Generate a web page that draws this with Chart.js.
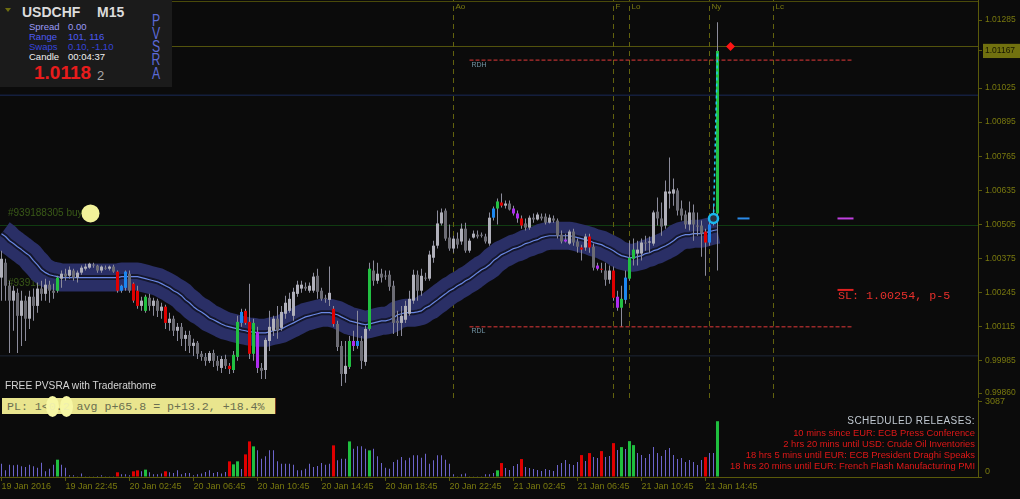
<!DOCTYPE html>
<html>
<head>
<meta charset="utf-8">
<script src="https://cdn.jsdelivr.net/npm/chart.js@4.4.1/dist/chart.umd.min.js"></script>
<style>
  html, body { margin: 0; padding: 0; background: #0b0b0b; }
  #wrap { position: relative; width: 1020px; height: 499px; overflow: hidden; background: #0b0b0b;
          font-family: 'Liberation Sans', Arial, sans-serif; }
  canvas { position: absolute; left: 0; }
  #cPrice { top: 0; }
  #cVol { top: 398px; }
  .t { position: absolute; white-space: nowrap; line-height: 1; }
  #topline { position: absolute; left: 0; top: 1px; width: 978px; border-top: 1px solid #4a4a0a; }
  #info { position: absolute; left: 0; top: 0; width: 172px; height: 87px; background: #1b1b1b; }
  #tri { position: absolute; left: 5px; top: 8px; width: 0; height: 0;
         border-left: 3.5px solid transparent; border-right: 3.5px solid transparent; border-top: 4px solid #6e6e10; }
  #pvsra { position: absolute; left: 146px; top: 13.7px; width: 20px; text-align: center; font-size: 17px;
           line-height: 13.2px; color: #5c6ad6; transform: scaleX(0.72); }
  #pl { position: absolute; left: 2px; top: 398px; width: 268px; height: 16px; padding-left: 5px;
        background: #e9e58e; border-right: 1px solid #7a3a20; font-family: 'Liberation Mono', monospace;
        font-size: 11.6px; line-height: 17px; color: #6b6f50; white-space: pre; }
  .blob { background: #f7f7a4; color: #eeeeb0; border-radius: 50%; padding: 4px 3px; margin: 0 -3px; }
  #news { position: absolute; right: 45px; top: 415px; text-align: right; }
  #news div { white-space: nowrap; }
</style>
</head>
<body>
<div id="wrap">
  <canvas id="cPrice" width="1020" height="398"></canvas>
  <canvas id="cVol" width="1020" height="101"></canvas>
  <div id="topline"></div>

  <div id="info">
    <div id="tri"></div>
    <div class="t" style="left:22px;top:5px;font-size:14px;font-weight:bold;color:#dcdcdc">USDCHF</div>
    <div class="t" style="left:97px;top:5px;font-size:14px;font-weight:bold;color:#dcdcdc">M15</div>
    <div class="t" style="left:29px;top:22px;font-size:9.5px;color:#9a9af8">Spread</div>
    <div class="t" style="left:68px;top:22px;font-size:9.5px;color:#9a9af8">0.00</div>
    <div class="t" style="left:29px;top:31.5px;font-size:9.5px;color:#4c5af4">Range</div>
    <div class="t" style="left:68px;top:31.5px;font-size:9.5px;color:#4c5af4">101, 116</div>
    <div class="t" style="left:29px;top:41.5px;font-size:9.5px;color:#3644dc">Swaps</div>
    <div class="t" style="left:68px;top:41.5px;font-size:9.5px;color:#3644dc">0.10, -1.10</div>
    <div class="t" style="left:29px;top:51.5px;font-size:9.5px;color:#f0f0f0">Candle</div>
    <div class="t" style="left:68px;top:51.5px;font-size:9.5px;color:#f0f0f0">00:04:37</div>
    <div class="t" style="left:34px;top:63px;font-size:19px;font-weight:bold;color:#e81c1c">1.0118</div>
    <div class="t" style="left:97px;top:69px;font-size:13px;color:#a8a8a8">2</div>
    <div id="pvsra">P<br>V<br>S<br>R<br>A</div>
  </div>

  <div class="t" style="left:5px;top:381px;font-size:10.2px;color:#d4d4d4">FREE PVSRA with Traderathome</div>
  <div id="pl">PL: 1&lt;<span class="blob">0</span>.<span class="blob">2</span> avg p+65.8 = p+13.2, +18.4%</div>

  <div class="t" style="left:838px;top:291px;font-family:'Liberation Mono',monospace;font-size:11.7px;color:#e8302c">SL: 1.00254, p-5</div>

  <div id="news">
    <div style="font-size:10px;letter-spacing:0.4px;color:#c0c8d0;line-height:12px">SCHEDULED RELEASES:</div>
    <div style="font-size:9.4px;color:#e01818;line-height:11px">10 mins since EUR: ECB Press Conference</div>
    <div style="font-size:9.4px;color:#e01818;line-height:11px">2 hrs 20 mins until USD: Crude Oil Inventories</div>
    <div style="font-size:9.4px;color:#e01818;line-height:11px">18 hrs 5 mins until EUR: ECB President Draghi Speaks</div>
    <div style="font-size:9.4px;color:#e01818;line-height:11px">18 hrs 20 mins until EUR: French Flash Manufacturing PMI</div>
  </div>
</div>

<script>
// USDCHF M15, 19 Jan 18:45 .. 21 Jan 15:30 (one entry per candle)
const TIME_LABELS = ['19 Jan 2016', '19 Jan 22:45', '20 Jan 02:45', '20 Jan 06:45', '20 Jan 10:45', '20 Jan 14:45',
  '20 Jan 18:45', '20 Jan 22:45', '21 Jan 02:45', '21 Jan 06:45', '21 Jan 10:45', '21 Jan 14:45'];
const TIME_LABEL_STEP = 16;   // candles between time labels

const PRICE_TICKS = [1.01285, 1.01167, 1.01025, 1.00895, 1.00765, 1.00635, 1.00505, 1.00375, 1.00245, 1.00115, 0.99985, 0.99860];
const LAST_PRICE = 1.01167;
const VOL_TICKS = [3087, 0];

const OPEN = [
  1.00301, 1.00358, 1.00270, 1.00213, 1.00243, 1.00155, 1.00213, 1.00144, 1.00228, 1.00193,
  1.00259, 1.00239, 1.00274, 1.00251, 1.00251, 1.00297, 1.00316, 1.00308, 1.00328, 1.00301,
  1.00320, 1.00335, 1.00339, 1.00350, 1.00347, 1.00328, 1.00339, 1.00335, 1.00343, 1.00324,
  1.00251, 1.00262, 1.00316, 1.00278, 1.00251, 1.00193, 1.00174, 1.00224, 1.00193, 1.00213,
  1.00174, 1.00190, 1.00128, 1.00144, 1.00098, 1.00113, 1.00067, 1.00082, 1.00040, 1.00052,
  1.00010, 0.99998, 0.99983, 1.00013, 0.99983, 0.99956, 0.99990, 0.99964, 0.99948, 0.99998,
  1.00128, 1.00174, 1.00132, 1.00010, 1.00094, 0.99956, 0.99948, 1.00059, 1.00098, 1.00144,
  1.00109, 1.00163, 1.00174, 1.00155, 1.00239, 1.00259, 1.00266, 1.00251, 1.00251, 1.00308,
  1.00251, 1.00224, 1.00216, 1.00182, 1.00124, 1.00040, 0.99933, 0.99960, 1.00059, 1.00040,
  1.00059, 0.99979, 1.00105, 1.00328, 1.00289, 1.00316, 1.00308, 1.00312, 1.00270, 1.00136,
  1.00128, 1.00140, 1.00163, 1.00213, 1.00312, 1.00251, 1.00301, 1.00297, 1.00377, 1.00423,
  1.00508, 1.00557, 1.00454, 1.00412, 1.00450, 1.00439, 1.00488, 1.00404, 1.00454, 1.00465,
  1.00465, 1.00458, 1.00431, 1.00530, 1.00565, 1.00588, 1.00576, 1.00584, 1.00565, 1.00546,
  1.00527, 1.00508, 1.00492, 1.00530, 1.00523, 1.00534, 1.00534, 1.00511, 1.00527, 1.00519,
  1.00465, 1.00446, 1.00431, 1.00477, 1.00439, 1.00416, 1.00416, 1.00458, 1.00419, 1.00347,
  1.00335, 1.00328, 1.00293, 1.00328, 1.00228, 1.00186, 1.00216, 1.00297, 1.00373, 1.00393,
  1.00393, 1.00435, 1.00435, 1.00431, 1.00553, 1.00527, 1.00500, 1.00622, 1.00622, 1.00634,
  1.00565, 1.00542, 1.00504, 1.00550, 1.00500, 1.00500, 1.00477, 1.00435, 1.00519, 1.00546
];
const HIGH = [
  1.00404, 1.00373, 1.00289, 1.00270, 1.00259, 1.00251, 1.00232, 1.00251, 1.00259, 1.00282,
  1.00289, 1.00297, 1.00289, 1.00278, 1.00308, 1.00328, 1.00335, 1.00343, 1.00335, 1.00328,
  1.00347, 1.00354, 1.00358, 1.00358, 1.00350, 1.00347, 1.00347, 1.00347, 1.00350, 1.00328,
  1.00274, 1.00328, 1.00328, 1.00282, 1.00270, 1.00228, 1.00236, 1.00239, 1.00224, 1.00220,
  1.00205, 1.00197, 1.00167, 1.00155, 1.00128, 1.00128, 1.00098, 1.00098, 1.00067, 1.00059,
  1.00021, 1.00013, 1.00021, 1.00025, 1.00002, 1.00002, 1.00006, 0.99975, 1.00021, 1.00155,
  1.00182, 1.00182, 1.00278, 1.00144, 1.00113, 0.99975, 1.00071, 1.00174, 1.00155, 1.00193,
  1.00193, 1.00232, 1.00243, 1.00262, 1.00289, 1.00289, 1.00282, 1.00282, 1.00320, 1.00335,
  1.00262, 1.00236, 1.00343, 1.00193, 1.00136, 1.00059, 1.00059, 1.00078, 1.00098, 1.00174,
  1.00078, 1.00117, 1.00358, 1.00366, 1.00358, 1.00335, 1.00328, 1.00328, 1.00289, 1.00174,
  1.00193, 1.00213, 1.00251, 1.00331, 1.00328, 1.00335, 1.00320, 1.00404, 1.00442, 1.00557,
  1.00565, 1.00565, 1.00504, 1.00461, 1.00473, 1.00508, 1.00511, 1.00450, 1.00481, 1.00481,
  1.00473, 1.00469, 1.00550, 1.00573, 1.00603, 1.00622, 1.00596, 1.00596, 1.00576, 1.00557,
  1.00538, 1.00527, 1.00538, 1.00546, 1.00550, 1.00546, 1.00546, 1.00542, 1.00538, 1.00527,
  1.00481, 1.00469, 1.00484, 1.00488, 1.00450, 1.00427, 1.00469, 1.00469, 1.00431, 1.00358,
  1.00358, 1.00358, 1.00347, 1.00343, 1.00251, 1.00270, 1.00328, 1.00442, 1.00450, 1.00442,
  1.00450, 1.00461, 1.00458, 1.00557, 1.00607, 1.00588, 1.00672, 1.00760, 1.00680, 1.00642,
  1.00596, 1.00557, 1.00592, 1.00580, 1.00550, 1.00519, 1.00488, 1.00519, 1.00576, 1.01277
];
const LOW = [
  1.00213, 1.00213, 1.00013, 1.00098, 1.00013, 1.00040, 1.00059, 1.00105, 1.00136, 1.00167,
  1.00213, 1.00213, 1.00205, 1.00220, 1.00243, 1.00262, 1.00289, 1.00297, 1.00289, 1.00282,
  1.00312, 1.00328, 1.00335, 1.00339, 1.00320, 1.00320, 1.00331, 1.00328, 1.00320, 1.00243,
  1.00243, 1.00251, 1.00243, 1.00205, 1.00182, 1.00174, 1.00167, 1.00174, 1.00155, 1.00151,
  1.00144, 1.00105, 1.00098, 1.00078, 1.00059, 1.00040, 1.00021, 1.00013, 1.00002, 0.99990,
  0.99983, 0.99964, 0.99975, 0.99960, 0.99945, 0.99937, 0.99952, 0.99933, 0.99937, 0.99983,
  1.00113, 1.00121, 0.99990, 0.99983, 0.99937, 0.99914, 0.99914, 1.00021, 1.00078, 1.00067,
  1.00098, 1.00144, 1.00167, 1.00136, 1.00228, 1.00243, 1.00251, 1.00243, 1.00243, 1.00220,
  1.00213, 1.00205, 1.00193, 1.00113, 1.00021, 0.99887, 0.99899, 0.99952, 1.00021, 1.00029,
  0.99952, 0.99964, 1.00098, 1.00270, 1.00278, 1.00282, 1.00293, 1.00251, 1.00086, 1.00078,
  1.00078, 1.00128, 1.00155, 1.00201, 1.00213, 1.00232, 1.00289, 1.00289, 1.00358, 1.00412,
  1.00500, 1.00442, 1.00404, 1.00396, 1.00412, 1.00427, 1.00396, 1.00396, 1.00450, 1.00450,
  1.00454, 1.00431, 1.00423, 1.00519, 1.00504, 1.00569, 1.00565, 1.00557, 1.00538, 1.00511,
  1.00488, 1.00481, 1.00484, 1.00511, 1.00519, 1.00519, 1.00504, 1.00508, 1.00511, 1.00450,
  1.00431, 1.00435, 1.00427, 1.00423, 1.00396, 1.00366, 1.00404, 1.00396, 1.00328, 1.00328,
  1.00320, 1.00270, 1.00278, 1.00213, 1.00174, 1.00113, 1.00201, 1.00289, 1.00347, 1.00347,
  1.00366, 1.00404, 1.00396, 1.00423, 1.00500, 1.00461, 1.00488, 1.00565, 1.00576, 1.00538,
  1.00519, 1.00488, 1.00481, 1.00442, 1.00461, 1.00381, 1.00308, 1.00423, 1.00500, 1.00328
];
const CLOSE = [
  1.00373, 1.00270, 1.00213, 1.00251, 1.00155, 1.00213, 1.00144, 1.00228, 1.00193, 1.00259,
  1.00239, 1.00274, 1.00251, 1.00243, 1.00301, 1.00316, 1.00305, 1.00331, 1.00301, 1.00320,
  1.00339, 1.00343, 1.00354, 1.00347, 1.00328, 1.00343, 1.00335, 1.00343, 1.00324, 1.00251,
  1.00270, 1.00324, 1.00251, 1.00213, 1.00193, 1.00213, 1.00228, 1.00193, 1.00213, 1.00174,
  1.00190, 1.00128, 1.00144, 1.00098, 1.00113, 1.00067, 1.00082, 1.00040, 1.00052, 1.00010,
  0.99998, 0.99983, 1.00013, 0.99983, 0.99964, 0.99990, 0.99964, 0.99952, 1.00006, 1.00132,
  1.00170, 1.00128, 1.00010, 1.00128, 0.99956, 0.99945, 1.00063, 1.00113, 1.00144, 1.00098,
  1.00170, 1.00205, 1.00220, 1.00247, 1.00274, 1.00274, 1.00259, 1.00270, 1.00305, 1.00247,
  1.00220, 1.00220, 1.00243, 1.00124, 1.00036, 0.99933, 0.99964, 1.00059, 1.00040, 1.00059,
  0.99983, 1.00105, 1.00335, 1.00289, 1.00316, 1.00301, 1.00305, 1.00266, 1.00128, 1.00128,
  1.00155, 1.00193, 1.00220, 1.00312, 1.00251, 1.00308, 1.00297, 1.00389, 1.00423, 1.00508,
  1.00550, 1.00450, 1.00412, 1.00450, 1.00427, 1.00488, 1.00404, 1.00442, 1.00469, 1.00458,
  1.00461, 1.00439, 1.00530, 1.00565, 1.00592, 1.00576, 1.00584, 1.00561, 1.00546, 1.00527,
  1.00500, 1.00492, 1.00530, 1.00523, 1.00542, 1.00527, 1.00511, 1.00530, 1.00519, 1.00461,
  1.00439, 1.00439, 1.00477, 1.00435, 1.00419, 1.00408, 1.00458, 1.00416, 1.00339, 1.00335,
  1.00331, 1.00293, 1.00328, 1.00224, 1.00186, 1.00220, 1.00301, 1.00377, 1.00408, 1.00408,
  1.00435, 1.00431, 1.00439, 1.00550, 1.00527, 1.00496, 1.00630, 1.00630, 1.00638, 1.00557,
  1.00538, 1.00504, 1.00550, 1.00504, 1.00496, 1.00469, 1.00435, 1.00504, 1.00542, 1.01167
];
// PVSRA class per candle: n normal, g/r climax up/down, b/m rising volume up/down
const PV_CLASS = (
  'nnnnnnnnnn' + 'nnnngnnnnn' + 'nnnnnnnnnr' + 'bbnrrngnnn' + 'nrnnnnnnnn' +
  'nnnnnnnrgg' + 'brrgmnnnnn' + 'nnnnnnnnnn' + 'nnnrnnngmb' + 'nngnnnnnnn' +
  'nnnnnnnnnn' + 'nnnnnnnnnn' + 'nnnbgrnnmm' + 'rnnnnnnnnn' + 'nmnnnrnrnm' +
  'rnnrmgbggn' + 'nnnnnnnnnn' + 'nnnnnnrbng'
).split('');
const VOLUME = [
  550, 275, 508, 480, 508, 439, 410, 508, 439, 385,
  590, 234, 344, 508, 713, 508, 385, 70, 70, 30,
  140, 30, 30, 30, 40, 70, 30, 30, 30, 193,
  111, 111, 70, 234, 275, 234, 303, 193, 111, 111,
  140, 234, 193, 164, 275, 111, 164, 164, 70, 111,
  140, 207, 275, 164, 207, 140, 207, 644, 521, 644,
  330, 931, 1465, 1261, 1096, 754, 850, 1096, 1096, 644,
  549, 549, 549, 508, 275, 275, 344, 549, 410, 453,
  576, 508, 549, 1302, 686, 754, 754, 1465, 1165, 1261,
  1261, 1165, 1096, 1165, 850, 576, 385, 344, 617, 713,
  822, 686, 795, 891, 891, 795, 960, 549, 686, 891,
  891, 713, 549, 111, 30, 111, 140, 30, 30, 10,
  30, 111, 111, 164, 275, 574, 369, 287, 451, 533,
  738, 410, 369, 328, 287, 246, 328, 287, 246, 492,
  574, 697, 533, 492, 615, 902, 656, 984, 820, 779,
  1066, 820, 861, 1394, 1107, 1230, 1148, 1476, 1312, 984,
  902, 779, 943, 1230, 984, 861, 1107, 1189, 902, 738,
  779, 615, 697, 615, 492, 697, 820, 984, 984, 2296
];
// moving average of the PVSRA band
const MA = [
  1.00469, 1.00458, 1.00442, 1.00431, 1.00419, 1.00408, 1.00396, 1.00385, 1.00366, 1.00350,
  1.00331, 1.00320, 1.00312, 1.00308, 1.00305, 1.00301, 1.00301, 1.00301, 1.00301, 1.00301,
  1.00301, 1.00301, 1.00301, 1.00301, 1.00301, 1.00301, 1.00301, 1.00301, 1.00301, 1.00301,
  1.00305, 1.00305, 1.00305, 1.00305, 1.00305, 1.00301, 1.00297, 1.00293, 1.00289, 1.00285,
  1.00278, 1.00270, 1.00262, 1.00251, 1.00243, 1.00232, 1.00216, 1.00205, 1.00190, 1.00178,
  1.00170, 1.00159, 1.00147, 1.00140, 1.00132, 1.00124, 1.00117, 1.00113, 1.00109, 1.00105,
  1.00101, 1.00098, 1.00094, 1.00094, 1.00090, 1.00090, 1.00090, 1.00094, 1.00098, 1.00101,
  1.00105, 1.00113, 1.00121, 1.00128, 1.00136, 1.00144, 1.00151, 1.00155, 1.00159, 1.00163,
  1.00167, 1.00167, 1.00167, 1.00163, 1.00159, 1.00151, 1.00144, 1.00136, 1.00132, 1.00128,
  1.00124, 1.00121, 1.00124, 1.00128, 1.00132, 1.00136, 1.00136, 1.00140, 1.00147, 1.00159,
  1.00163, 1.00167, 1.00167, 1.00167, 1.00170, 1.00174, 1.00186, 1.00193, 1.00205, 1.00216,
  1.00228, 1.00239, 1.00251, 1.00259, 1.00270, 1.00278, 1.00289, 1.00297, 1.00308, 1.00320,
  1.00331, 1.00339, 1.00350, 1.00366, 1.00377, 1.00389, 1.00396, 1.00404, 1.00412, 1.00416,
  1.00423, 1.00431, 1.00435, 1.00442, 1.00446, 1.00454, 1.00458, 1.00461, 1.00461, 1.00461,
  1.00461, 1.00461, 1.00461, 1.00458, 1.00454, 1.00450, 1.00446, 1.00442, 1.00435, 1.00431,
  1.00427, 1.00419, 1.00412, 1.00404, 1.00393, 1.00385, 1.00381, 1.00377, 1.00377, 1.00381,
  1.00385, 1.00393, 1.00396, 1.00404, 1.00408, 1.00416, 1.00423, 1.00431, 1.00442, 1.00454,
  1.00461, 1.00465, 1.00465, 1.00469, 1.00469, 1.00469, 1.00473, 1.00477, 1.00481, 1.00484
];

// horizontal levels across the chart, range lines, session markers, order marks
const LEVEL_PRICES = [1.01184, 1.00998, 1.00500, 1.00002];
const RANGE_LEVELS = [1.01132, 1.00113];
const RANGE_NAMES = ['RDH', 'RDL'];
const RANGE_SPAN = [117, 212.5];
const SESSION_BARS = [113, 153, 157, 177, 193];
const SESSION_NAMES = ['Ao', 'F', 'Lo', 'Ny', 'Lc'];
const MARK_PRICES = [1.00527, 1.00527, 1.00254];
const MARK_SPANS = [[184, 187], [209, 213], [209, 213]];
const ORDER_LABEL = '#939188305 buy';
const ORDER_LABEL_PRICES = [1.00546, 1.00278];
const ORDER_BAR = 22.25, ORDER_PRICE = 1.00546;
const ENTRY_BAR = 178, ENTRY_PRICE = 1.00527;
const TP_BAR = 182.25, TP_PRICE = 1.01184;

// axis windows (plot is 978 px wide, 4 px per candle)
const X_MIN = -0.375, X_MAX = 244.125;
const PRICE_MIN = 0.998411, PRICE_MAX = 1.013616;
const VOL_MAX = 3169;

const FONT = "'Liberation Sans', Arial, sans-serif";
const AXIS_TEXT = '#79790f';
const AXIS_LINE = '#5a5a0a';
const PV_COLORS = { g: '#22c042', r: '#e00000', b: '#1c86f0', m: '#ae2cf0' };
const LEVEL_COLORS = ['#55550e', '#1a2a58', '#113c12', '#1d2536'];
const MARK_COLORS = ['#2a8ae8', '#c040e0', '#e02020'];

const bars = CLOSE.map((_, i) => i);
const isClimax = i => PV_CLASS[i] === 'g' || PV_CLASS[i] === 'r';

function bodyColor(i) {
  const k = PV_CLASS[i];
  if (k !== 'n') return PV_COLORS[k];
  return CLOSE[i] >= OPEN[i] ? '#b0b0ba' : '#6c6c74';
}

function lineSet(data, color, width, order) {
  return { type: 'line', data, borderColor: color, borderWidth: width, pointRadius: 0, fill: false,
           order, borderCapStyle: 'butt', borderJoinStyle: 'round' };
}

function pointSet(x, y, style, order) {
  return { type: 'scatter', data: [{ x, y }], order, ...style };
}

const maPts = bars.map(i => ({ x: i, y: MA[i] }));

const priceText = {
  id: 'priceText',
  beforeDatasetsDraw(chart) {
    const { ctx, scales: { y } } = chart;
    ctx.save();
    ctx.font = '10px ' + FONT;
    ctx.fillStyle = '#3a5a18';
    ctx.textBaseline = 'middle';
    ORDER_LABEL_PRICES.forEach(p => ctx.fillText(ORDER_LABEL, 8, y.getPixelForValue(p)));
    ctx.restore();
  },
  afterDatasetsDraw(chart) {
    const { ctx, scales: { x, y } } = chart;
    ctx.save();
    ctx.textBaseline = 'top';
    ctx.font = '8px ' + FONT;
    ctx.fillStyle = '#7a7a12';
    SESSION_BARS.forEach((b, k) => ctx.fillText(SESSION_NAMES[k], x.getPixelForValue(b) + 2, 3));
    ctx.font = '7px ' + FONT;
    ctx.fillStyle = '#7294a4';
    ctx.textBaseline = 'middle';
    RANGE_LEVELS.forEach((p, k) => ctx.fillText(RANGE_NAMES[k], x.getPixelForValue(RANGE_SPAN[0]) + 2, y.getPixelForValue(p) + 4.5));
    ctx.restore();
  }
};

new Chart(document.getElementById('cPrice'), {
  type: 'bar',
  data: {
    datasets: [
      ...LEVEL_PRICES.map((p, k) => lineSet([{ x: X_MIN, y: p }, { x: X_MAX, y: p }], LEVEL_COLORS[k], 1, 30)),
      ...SESSION_BARS.map(b => ({ ...lineSet([{ x: b, y: PRICE_MIN }, { x: b, y: PRICE_MAX }], '#62620e', 1, 29), borderDash: [5, 4] })),
      lineSet(maPts, '#2a2f66', 28, 25),
      lineSet(maPts, '#14162c', 5, 24),
      lineSet(maPts, '#6a88e4', 1.2, 23),
      { type: 'bar', data: bars.map(i => ({ x: i, y: [LOW[i], HIGH[i]] })), backgroundColor: '#8c8c9c',
        barThickness: 1, grouped: false, inflateAmount: 0, order: 15 },
      { type: 'bar', data: bars.map(i => ({ x: i, y: [OPEN[i], CLOSE[i]] })), backgroundColor: bars.map(bodyColor),
        barThickness: 3, minBarLength: 1, grouped: false, inflateAmount: 0, order: 14 },
      ...RANGE_LEVELS.map(p => ({ ...lineSet([{ x: RANGE_SPAN[0], y: p }, { x: RANGE_SPAN[1], y: p }], '#e23a3a', 1, 12), borderDash: [4, 2] })),
      ...MARK_PRICES.map((p, k) => lineSet([{ x: MARK_SPANS[k][0], y: p }, { x: MARK_SPANS[k][1], y: p }], MARK_COLORS[k], 2, 10)),
      { ...lineSet([{ x: ENTRY_BAR, y: ENTRY_PRICE }, { x: bars.length - 1, y: CLOSE[CLOSE.length - 1] }], '#22c4f4', 1.5, 5), borderDash: [3, 3] },
      pointSet(ENTRY_BAR, ENTRY_PRICE, { pointRadius: 4.5, pointBackgroundColor: '#2a3040', pointBorderColor: '#18b8f0', pointBorderWidth: 2.5 }, 4),
      pointSet(ORDER_BAR, ORDER_PRICE, { pointRadius: 9, pointBackgroundColor: '#f2f29a', pointBorderWidth: 0 }, 3),
      pointSet(TP_BAR, TP_PRICE, { pointRadius: 4.5, pointStyle: 'rectRot', pointBackgroundColor: '#ff1414', pointBorderWidth: 0 }, 3)
    ]
  },
  options: {
    responsive: false,
    animation: false,
    events: [],
    layout: { padding: 0, autoPadding: false },
    plugins: { legend: { display: false }, tooltip: { enabled: false } },
    scales: {
      x: { type: 'linear', min: X_MIN, max: X_MAX, offset: false, grid: { offset: false }, display: false },
      y: {
        position: 'right',
        min: PRICE_MIN,
        max: PRICE_MAX,
        afterBuildTicks(scale) { scale.ticks = PRICE_TICKS.map(v => ({ value: v })); },
        afterFit(scale) { scale.width = 42; scale.paddingTop = 0; scale.paddingBottom = 0; },
        grid: { drawOnChartArea: false, color: AXIS_LINE, tickLength: 4 },
        border: { color: AXIS_LINE },
        ticks: {
          padding: 3,
          font: { family: FONT, size: 8.5 },
          color: c => (c.tick && c.tick.value === LAST_PRICE ? '#161600' : AXIS_TEXT),
          showLabelBackdrop: c => !!(c.tick && c.tick.value === LAST_PRICE),
          backdropColor: '#71710f',
          backdropPadding: { top: 2, bottom: 2, left: 2, right: 8 },
          callback: v => v.toFixed(5)
        }
      }
    }
  },
  plugins: [priceText]
});

new Chart(document.getElementById('cVol'), {
  type: 'bar',
  data: {
    datasets: [
      { data: bars.map(i => ({ x: i, y: isClimax(i) ? null : VOLUME[i] })), backgroundColor: '#6c64cc',
        barThickness: 1, grouped: false, inflateAmount: 0 },
      { data: bars.map(i => ({ x: i, y: isClimax(i) ? VOLUME[i] : null })),
        backgroundColor: bars.map(i => (PV_CLASS[i] === 'g' ? '#1fbf3f' : '#e00000')),
        barThickness: 3, grouped: false, inflateAmount: 0 }
    ]
  },
  options: {
    responsive: false,
    animation: false,
    events: [],
    layout: { padding: { top: 2 }, autoPadding: false },
    plugins: { legend: { display: false }, tooltip: { enabled: false } },
    scales: {
      x: {
        type: 'linear', min: X_MIN, max: X_MAX, offset: false,
        afterBuildTicks(scale) { scale.ticks = TIME_LABELS.map((_, k) => ({ value: k * TIME_LABEL_STEP })); },
        afterFit(scale) { scale.height = 22; scale.paddingLeft = 0; scale.paddingRight = 0; },
        grid: { drawOnChartArea: false, offset: false, color: AXIS_LINE, tickLength: 4 },
        border: { color: AXIS_LINE },
        ticks: {
          autoSkip: false, maxRotation: 0, align: 'start', padding: 0,
          color: AXIS_TEXT, font: { family: FONT, size: 9 },
          callback: v => TIME_LABELS[Math.round(v / TIME_LABEL_STEP)]
        }
      },
      y: {
        position: 'right', min: 0, max: VOL_MAX,
        afterBuildTicks(scale) { scale.ticks = VOL_TICKS.map(v => ({ value: v })); },
        afterFit(scale) { scale.width = 42; scale.paddingTop = 0; scale.paddingBottom = 0; },
        grid: { drawOnChartArea: false, color: AXIS_LINE, tickLength: 4 },
        border: { color: AXIS_LINE },
        ticks: {
          padding: 3, color: AXIS_TEXT, font: { family: FONT, size: 9 },
          callback: v => (v === 0 ? ['0', ''] : String(v))
        }
      }
    }
  }
});
</script>
</body>
</html>
